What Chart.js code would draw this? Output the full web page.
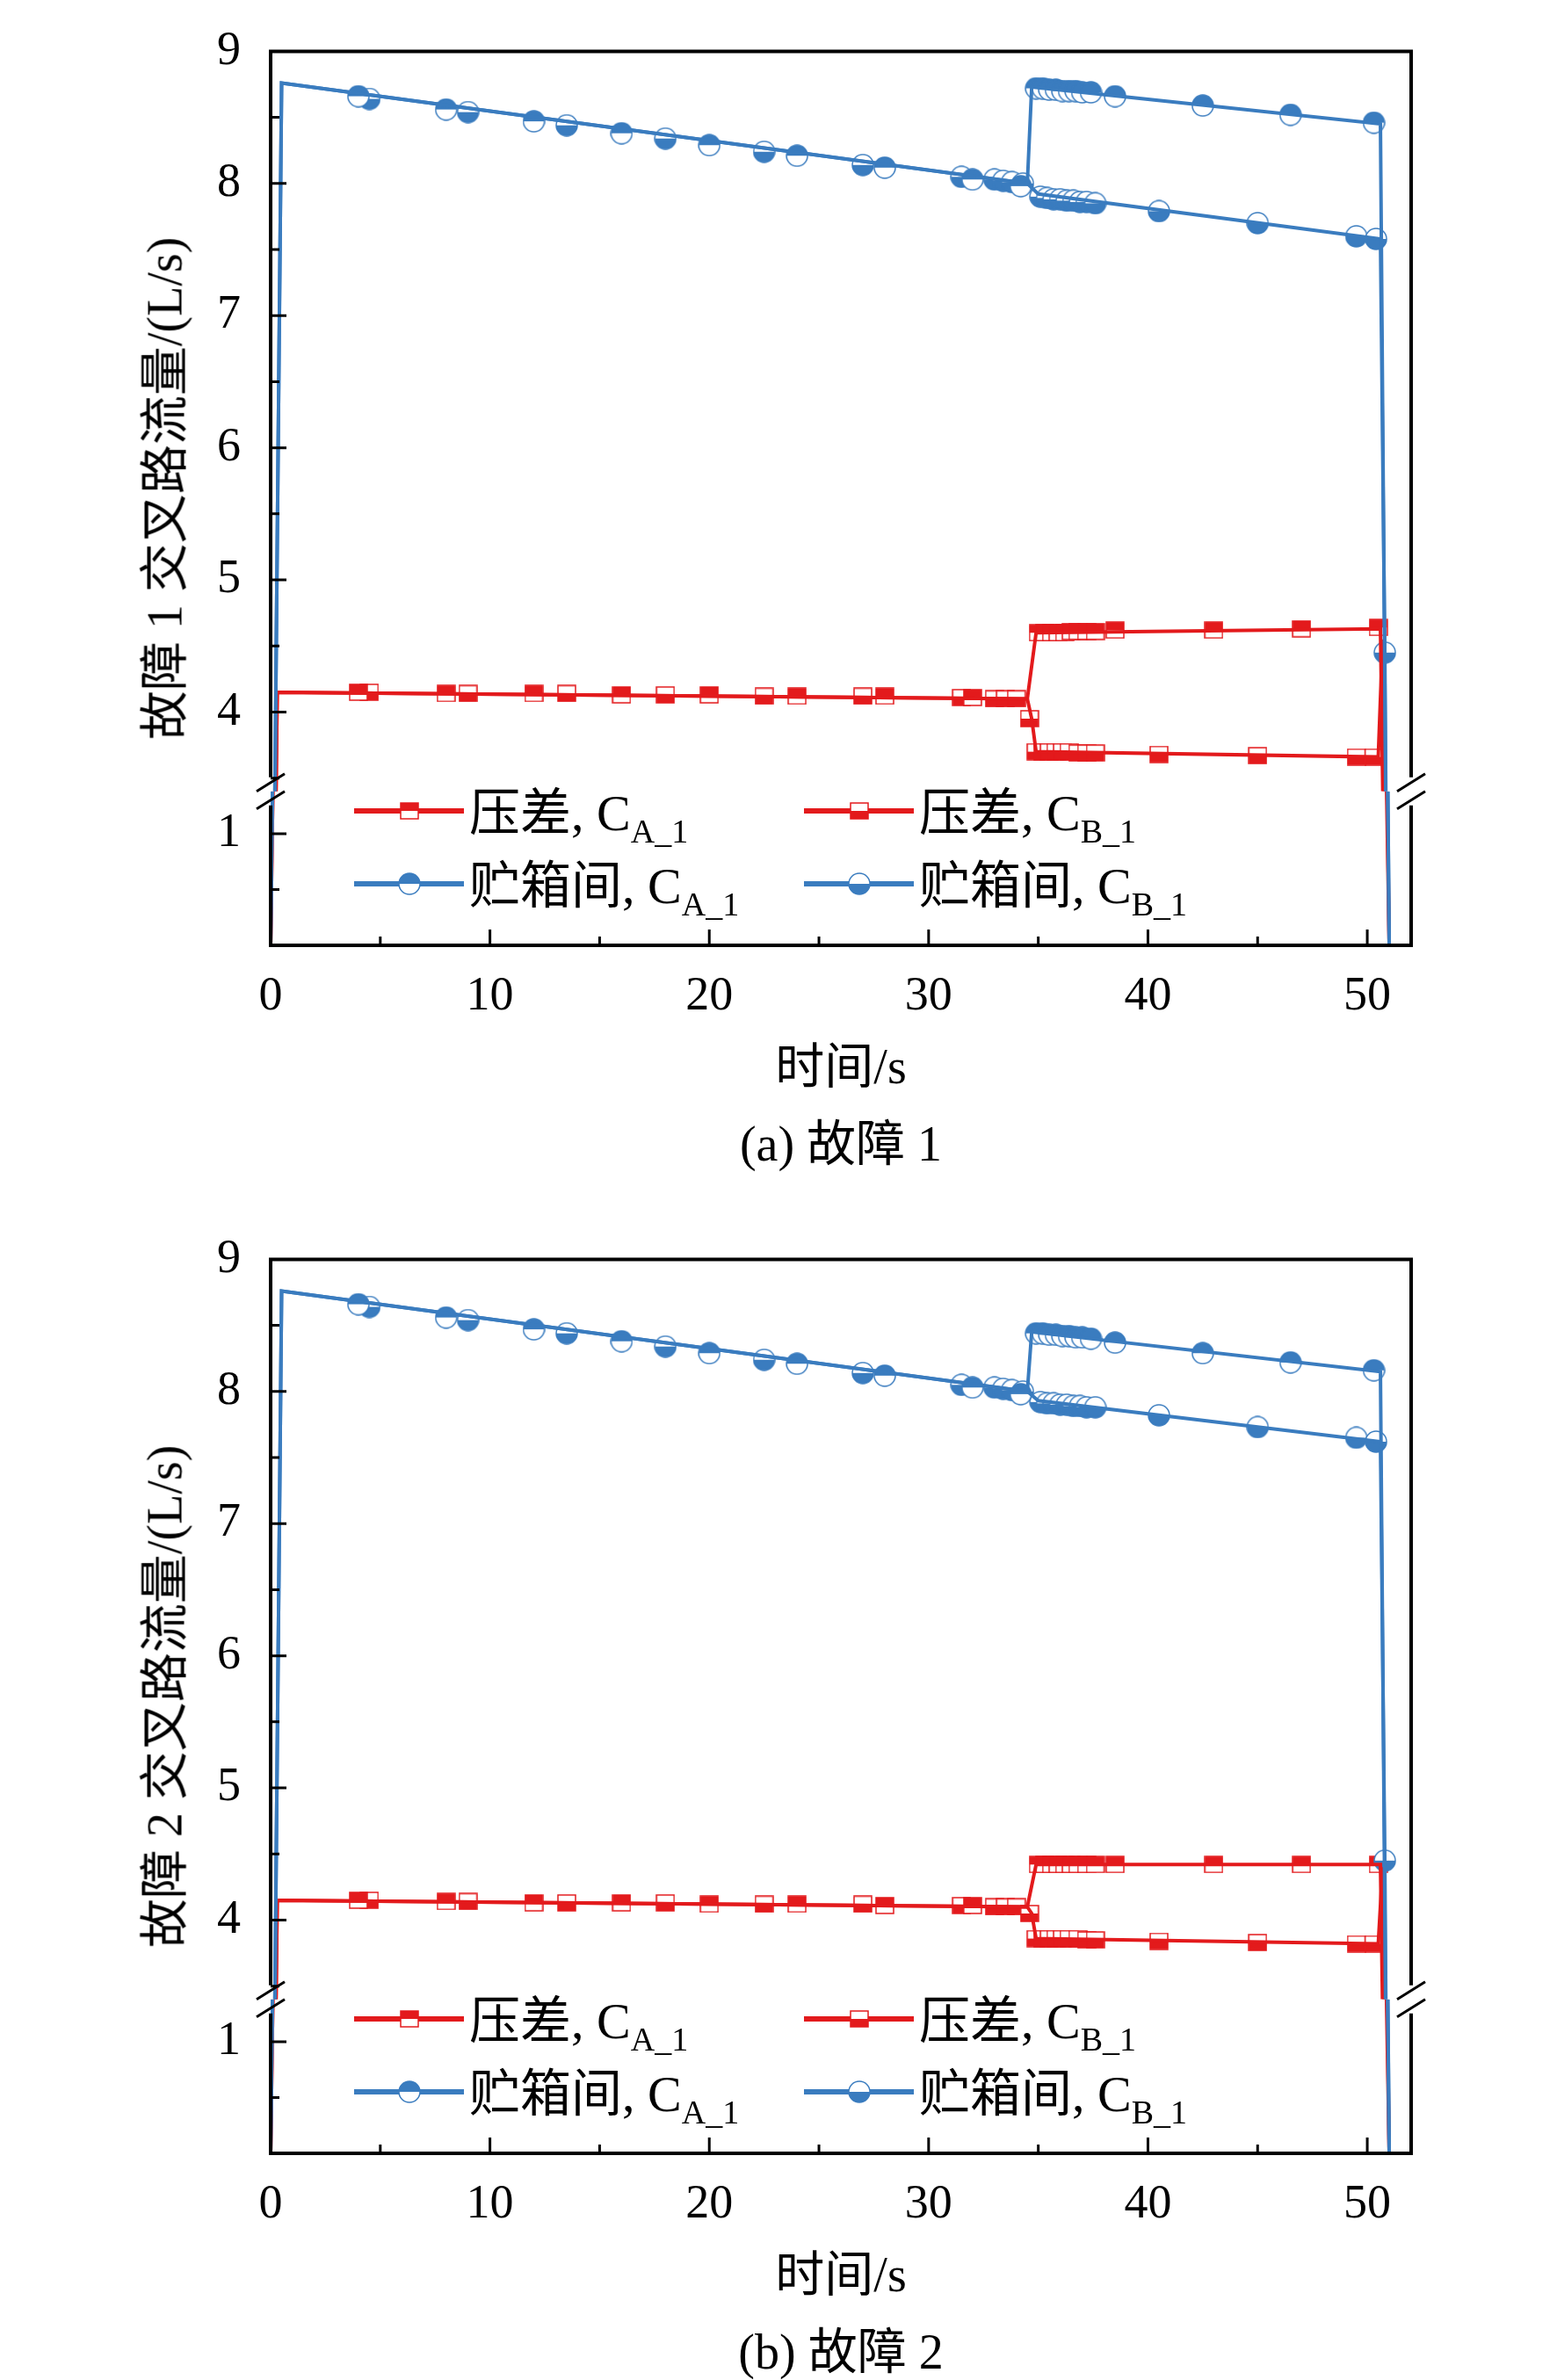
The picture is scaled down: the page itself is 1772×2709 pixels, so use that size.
<!DOCTYPE html>
<html><head><meta charset="utf-8">
<script src="https://cdn.jsdelivr.net/npm/chart.js@4.4.1/dist/chart.umd.min.js"></script>
<style>
body{margin:0;background:#fff;width:1772px;height:2709px;position:relative;overflow:hidden;font-family:"Liberation Serif","Noto Sans CJK SC",serif;}
canvas{position:absolute;left:0}
.t{position:absolute;font-size:56px;white-space:nowrap;color:#000}
.yt{position:absolute;font-size:56px;white-space:nowrap;transform:translate(-50%,-50%) rotate(-90deg)}
.lg{position:absolute;font-size:58px;white-space:nowrap;display:flex;align-items:center;background:transparent}
.lg sub{font-size:38px;vertical-align:-14px}
.lg .sw{position:relative;width:125px;height:40px;margin-right:6px}
.lg .sw i{position:absolute;left:0;right:0;top:17px;height:6px}
.lg .sw img{position:absolute;left:50%;top:50%;transform:translate(-50%,-50%)}
</style></head><body>
<canvas id="ca" width="1772" height="1340" style="top:0"></canvas>
<canvas id="cb" width="1772" height="1340" style="top:1375px"></canvas>
<script>
// ---- data (time in s, flow in L/s) ----
// panel (a) fault 1
const aRedALineX = [0,0.3,34.5,34.9,50.6,51.0];
const aRedALineY = [0,4.15,4.1,4.6,4.63,0];
const aRedBLineX = [0,0.3,34.5,34.7,34.9,50.5,50.7,51.0];
const aRedBLineY = [0,4.15,4.1,3.95,3.7,3.66,4.55,0];
const aRedAMarkX = [4,8,12,16,20,24,28,32,35.0,35.3,35.6,35.9,36.2,36.5,36.8,37.2,37.6,38.5,43,47,50.5];
const aRedAMarkY = [4.15,4.14,4.14,4.13,4.13,4.12,4.12,4.11,4.6,4.6,4.6,4.6,4.6,4.61,4.61,4.61,4.61,4.62,4.62,4.63,4.64];
const aRedBMarkX = [4.5,9,13.5,18,22.5,27,31.5,33,33.5,34,34.6,34.9,35.2,35.5,35.8,36.1,36.4,36.8,37.2,37.6,40.5,45,49.5,50.3];
const aRedBMarkY = [4.15,4.14,4.14,4.13,4.12,4.12,4.11,4.1,4.1,4.1,3.95,3.7,3.7,3.7,3.7,3.7,3.7,3.69,3.69,3.69,3.68,3.67,3.66,3.66];
const aBlueALineX = [0,0.5,34.5,34.7,50.6,51.0];
const aBlueALineY = [0,8.76,8.0,8.73,8.45,0];
const aBlueBLineX = [0,0.5,34.5,35.0,50.6,50.8,51.0];
const aBlueBLineY = [0,8.76,8.0,7.92,7.58,4.45,0];
const aBlueAMarkX = [4,8,12,16,20,24,28,32,34.2,34.9,35.2,35.5,35.8,36.1,36.4,36.7,37.0,37.4,38.5,42.5,46.5,50.3];
const aBlueAMarkY = [8.66,8.56,8.47,8.38,8.29,8.21,8.12,8.03,7.98,8.72,8.72,8.71,8.71,8.7,8.7,8.7,8.69,8.69,8.66,8.59,8.52,8.46];
const aBlueBMarkX = [4.5,9,13.5,18,22.5,27,31.5,33,33.4,33.8,34.3,35.1,35.4,35.7,36.0,36.3,36.6,36.9,37.2,37.6,40.5,45,49.5,50.4,50.8];
const aBlueBMarkY = [8.64,8.54,8.44,8.34,8.24,8.14,8.05,8.03,8.02,8.01,8.0,7.9,7.89,7.88,7.88,7.87,7.87,7.86,7.86,7.85,7.79,7.7,7.6,7.58,4.45];
// panel (b) fault 2
const bRedALineX = [0,0.3,34.5,34.9,50.6,51.0];
const bRedALineY = [0,4.15,4.1,4.42,4.42,0];
const bRedBLineX = [0,0.3,34.5,34.7,34.9,50.5,50.7,51.0];
const bRedBLineY = [0,4.15,4.1,4.05,3.86,3.82,4.4,0];
const bRedAMarkX = [4,8,12,16,20,24,28,32,35.0,35.3,35.6,35.9,36.2,36.5,36.8,37.2,37.6,38.5,43,47,50.5];
const bRedAMarkY = [4.15,4.14,4.13,4.13,4.12,4.12,4.11,4.11,4.42,4.42,4.42,4.42,4.42,4.42,4.42,4.42,4.42,4.42,4.42,4.42,4.42];
const bRedBMarkX = [4.5,9,13.5,18,22.5,27,31.5,33,33.5,34,34.6,34.9,35.2,35.5,35.8,36.1,36.4,36.8,37.2,37.6,40.5,45,49.5,50.3];
const bRedBMarkY = [4.15,4.14,4.13,4.13,4.12,4.12,4.11,4.1,4.1,4.1,4.05,3.86,3.86,3.86,3.86,3.86,3.86,3.86,3.85,3.85,3.84,3.83,3.82,3.82];
const bBlueALineX = [0,0.5,34.5,34.7,50.6,51.0];
const bBlueALineY = [0,8.76,8.0,8.45,8.15,0];
const bBlueBLineX = [0,0.5,34.5,35.0,50.6,50.8,51.0];
const bBlueBLineY = [0,8.76,8.0,7.93,7.62,4.45,0];
const bBlueAMarkX = [4,8,12,16,20,24,28,32,34.2,34.9,35.2,35.5,35.8,36.1,36.4,36.7,37.0,37.4,38.5,42.5,46.5,50.3];
const bBlueAMarkY = [8.66,8.56,8.47,8.38,8.29,8.21,8.12,8.03,7.98,8.44,8.44,8.43,8.43,8.42,8.42,8.41,8.41,8.4,8.37,8.29,8.22,8.16];
const bBlueBMarkX = [4.5,9,13.5,18,22.5,27,31.5,33,33.4,33.8,34.3,35.1,35.4,35.7,36.0,36.3,36.6,36.9,37.2,37.6,40.5,45,49.5,50.4,50.8];
const bBlueBMarkY = [8.64,8.54,8.44,8.34,8.24,8.14,8.05,8.03,8.02,8.01,8.0,7.92,7.91,7.91,7.9,7.9,7.89,7.89,7.88,7.88,7.82,7.73,7.65,7.62,4.45];
const xTicks = [0,10,20,30,40,50];
const yTicksTop = [4,5,6,7,8,9];
const yTicksLow = [1];

const RED = '#e31a1c', BLUE = '#3a7cbf';
const pts = (xs, ys) => xs.map((x, i) => ({x, y: ys[i]}));

function marker(shape, color, topFilled){
  const s = shape === 'circle' ? 26 : 22;
  const c = document.createElement('canvas'); c.width = s; c.height = shape === 'circle' ? s : s - 2;
  const g = c.getContext('2d'), h = c.height;
  g.lineWidth = 1.5; g.strokeStyle = color;
  if(shape === 'circle'){
    const r = s/2 - 1;
    g.beginPath(); g.arc(s/2, s/2, r, 0, Math.PI*2); g.fillStyle = '#fff'; g.fill();
    g.beginPath();
    if(topFilled) g.arc(s/2, s/2, r, Math.PI, 0); else g.arc(s/2, s/2, r, 0, Math.PI);
    g.closePath(); g.fillStyle = color; g.fill();
    g.beginPath(); g.arc(s/2, s/2, r, 0, Math.PI*2); g.stroke();
  } else {
    g.fillStyle = '#fff'; g.fillRect(1, 1, s-2, h-2);
    g.fillStyle = color; g.fillRect(1, topFilled ? 1 : h/2, s-2, h/2-1);
    g.strokeRect(1, 1, s-2, h-2);
  }
  return c;
}
const mRA = marker('square', RED, true), mRB = marker('square', RED, false);
const mBA = marker('circle', BLUE, true), mBB = marker('circle', BLUE, false);

const clipPlugin = {
  id: 'segclip',
  beforeDatasetDraw(chart, args){
    const y = args.meta.yScale, a = chart.chartArea, ctx = chart.ctx;
    ctx.save(); ctx.beginPath(); ctx.rect(a.left, y.top, a.right - a.left, y.bottom - y.top); ctx.clip();
  },
  afterDatasetDraw(chart){ chart.ctx.restore(); }
};
const framePlugin = {
  id: 'frame',
  afterDraw(chart){
    const ctx = chart.ctx, a = chart.chartArea, x = chart.scales.x, yt = chart.scales.y, yl = chart.scales.y2;
    const brk = (yt.bottom + yl.top) / 2, gap = 16;
    ctx.save(); ctx.strokeStyle = '#000'; ctx.lineWidth = 4;
    ctx.beginPath();
    ctx.moveTo(a.left, brk - gap); ctx.lineTo(a.left, a.top); ctx.lineTo(a.right, a.top); ctx.lineTo(a.right, brk - gap);
    ctx.moveTo(a.left, brk + gap); ctx.lineTo(a.left, a.bottom); ctx.lineTo(a.right, a.bottom); ctx.lineTo(a.right, brk + gap);
    ctx.stroke();
    ctx.lineWidth = 3;
    [a.left, a.right].forEach(px => {
      ctx.beginPath();
      [-10, 10].forEach(d => { ctx.moveTo(px - 16, brk + d + 10); ctx.lineTo(px + 16, brk + d - 10); });
      ctx.stroke();
    });
    ctx.lineWidth = 3; ctx.beginPath();
    for(let v = 0; v <= 50; v += 5){
      const px = x.getPixelForValue(v), len = v % 10 === 0 ? 18 : 10;
      ctx.moveTo(px, a.bottom); ctx.lineTo(px, a.bottom - len);
    }
    for(let v = 3.5; v <= 9; v += 0.5){
      const py = yt.getPixelForValue(v), len = Number.isInteger(v) ? 18 : 10;
      ctx.moveTo(a.left, py); ctx.lineTo(a.left + len, py);
    }
    [0.5, 1].forEach(v => {
      const py = yl.getPixelForValue(v), len = v === 1 ? 18 : 10;
      ctx.moveTo(a.left, py); ctx.lineTo(a.left + len, py);
    });
    ctx.stroke(); ctx.restore();
  }
};

function lineSet(data, color, axis){
  return {data, yAxisID: axis, borderColor: color, borderWidth: 4, pointRadius: 0, tension: 0, showLine: true, fill: false};
}
function markSet(data, style, axis){
  return {data, yAxisID: axis, showLine: false, pointStyle: style, pointRadius: 12, pointHoverRadius: 12};
}

function panel(id, d){
  const sets = [];
  ['y', 'y2'].forEach(ax => {
    sets.push(lineSet(pts(d.bAx, d.bAy), BLUE, ax), lineSet(pts(d.bBx, d.bBy), BLUE, ax));
    sets.push(lineSet(pts(d.rAx, d.rAy), RED, ax), lineSet(pts(d.rBx, d.rBy), RED, ax));
  });
  sets.push(markSet(pts(d.mbAx, d.mbAy), mBA, 'y'), markSet(pts(d.mbBx, d.mbBy), mBB, 'y'));
  sets.push(markSet(pts(d.mrAx, d.mrAy), mRA, 'y'), markSet(pts(d.mrBx, d.mrBy), mRB, 'y'));
  const tickFont = {family: '"Liberation Serif", serif', size: 54};
  const keep = list => s => { s.ticks = list.map(v => ({value: v})); };
  new Chart(document.getElementById(id), {
    type: 'scatter',
    data: {datasets: sets},
    options: {
      responsive: false, animation: false, devicePixelRatio: 1,
      layout: {padding: {top: 31, right: 166, left: 0, bottom: 0}},
      plugins: {legend: {display: false}, tooltip: {enabled: false}},
      scales: {
        x: {type: 'linear', min: 0, max: 52, ticks: {color: '#000', font: tickFont, padding: 18, autoSkip: false, maxRotation: 0},
            afterBuildTicks: keep(xTicks), grid: {display: false}, border: {display: false},
            afterFit(s){ s.height = 1340 - 1076; }},
        y2: {type: 'linear', position: 'left', min: 0, max: 1.38, stack: 'v', stackWeight: 180, offset: false,
            ticks: {color: '#000', font: tickFont, padding: 26, autoSkip: false}, afterBuildTicks: keep(yTicksLow),
            grid: {display: false}, border: {display: false}, afterFit(s){ s.width = 308; }},
        y: {type: 'linear', position: 'left', min: 3.4, max: 9, stack: 'v', stackWeight: 865, offset: false,
            ticks: {color: '#000', font: tickFont, padding: 26, autoSkip: false}, afterBuildTicks: keep(yTicksTop),
            grid: {display: false}, border: {display: false}, afterFit(s){ s.width = 308; }}
      }
    },
    plugins: [clipPlugin, framePlugin]
  });
}

panel('ca', {rAx: aRedALineX, rAy: aRedALineY, rBx: aRedBLineX, rBy: aRedBLineY,
  bAx: aBlueALineX, bAy: aBlueALineY, bBx: aBlueBLineX, bBy: aBlueBLineY,
  mrAx: aRedAMarkX, mrAy: aRedAMarkY, mrBx: aRedBMarkX, mrBy: aRedBMarkY,
  mbAx: aBlueAMarkX, mbAy: aBlueAMarkY, mbBx: aBlueBMarkX, mbBy: aBlueBMarkY});
panel('cb', {rAx: bRedALineX, rAy: bRedALineY, rBx: bRedBLineX, rBy: bRedBLineY,
  bAx: bBlueALineX, bAy: bBlueALineY, bBx: bBlueBLineX, bBy: bBlueBLineY,
  mrAx: bRedAMarkX, mrAy: bRedAMarkY, mrBx: bRedBMarkX, mrBy: bRedBMarkY,
  mbAx: bBlueAMarkX, mbAy: bBlueAMarkY, mbBx: bBlueBMarkX, mbBy: bBlueBMarkY});

// texts and legends
function addText(cls, html, left, top){
  const d = document.createElement('div'); d.className = cls; d.innerHTML = html;
  d.style.left = left + 'px'; d.style.top = top + 'px'; document.body.appendChild(d); return d;
}
function legendItem(left, top, color, mk, label){
  const d = addText('lg', '', left, top);
  d.innerHTML = `<span class="sw"><i style="background:${color}"></i><img src="${mk.toDataURL()}"></span><span>${label}</span>`;
}
[[0, '故障 1', '(a) 故障 1'], [1375, '故障 2', '(b) 故障 2']].forEach(([off, name, cap]) => {
  addText('yt', name + ' 交叉路流量/(L/s)', 182, off + 556);
  const xt = addText('t', '时间/s', 0, off + 1168); xt.style.left = '957px'; xt.style.transform = 'translateX(-50%)';
  const ct = addText('t', cap, 0, off + 1256); ct.style.left = '957px'; ct.style.transform = 'translateX(-50%)';
  legendItem(403, off + 878, RED, mRA, '压差, C<sub>A_1</sub>');
  legendItem(915, off + 878, RED, mRB, '压差, C<sub>B_1</sub>');
  legendItem(403, off + 961, BLUE, mBA, '贮箱间, C<sub>A_1</sub>');
  legendItem(915, off + 961, BLUE, mBB, '贮箱间, C<sub>B_1</sub>');
});
</script>
</body></html>
